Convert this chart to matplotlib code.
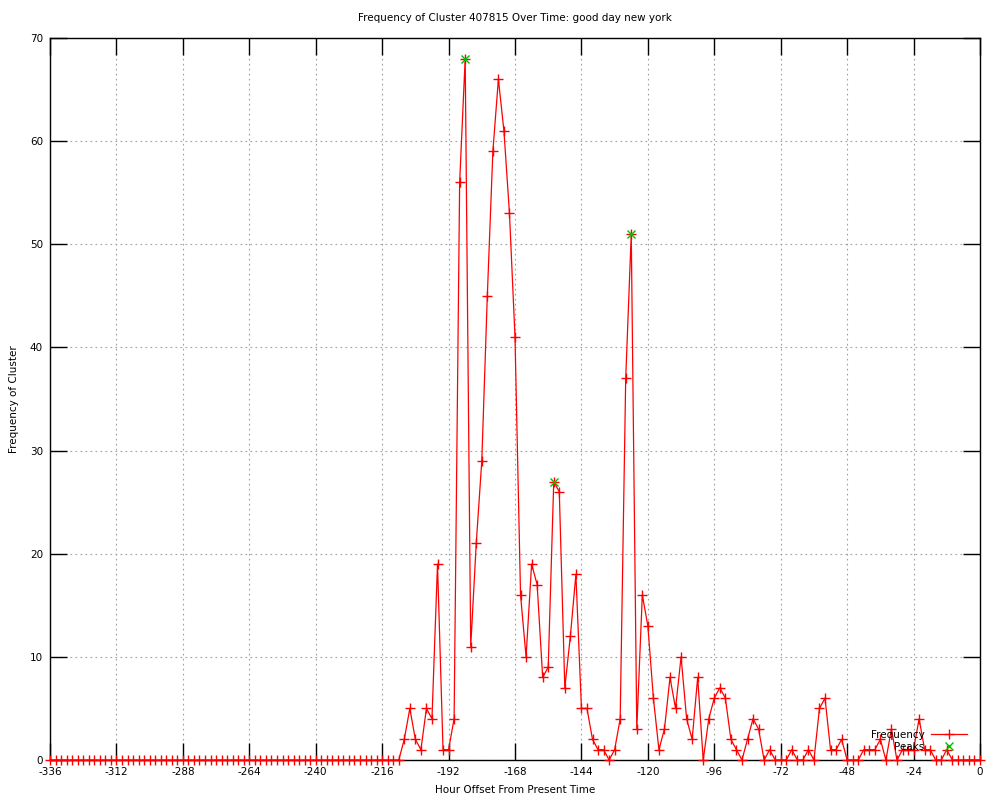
import numpy as np
import matplotlib
matplotlib.use("Agg")
import matplotlib.pyplot as plt

# hour offsets, every 2 hours from -336 to 0
hours = list(range(-336, 1, 2))

# frequency per 2-hour bin
freq_before = [0] * 64  # -336 .. -210
freq_after = [
    2, 5, 2, 1, 5, 4, 19, 1, 1, 4,          # -208 .. -190
    56, 68, 11, 21, 29, 45, 59, 66, 61, 53,  # -188 .. -170
    41, 16, 10, 19, 17, 8, 9, 27, 26, 7,     # -168 .. -150
    12, 18, 5, 5, 2, 1, 1, 0, 1, 4,          # -148 .. -130
    37, 51, 3, 16, 13, 6, 1, 3, 8, 5,        # -128 .. -110
    10, 4, 2, 8, 0, 4, 6, 7, 6, 2,           # -108 .. -90
    1, 0, 2, 4, 3, 0, 1, 0, 0, 0,            # -88 .. -70
    1, 0, 0, 1, 0, 5, 6, 1, 1, 2,            # -68 .. -50
    0, 0, 0, 1, 1, 1, 2, 0, 3, 0,            # -48 .. -30
    1, 1, 1, 4, 1, 1, 0, 0, 1, 0,            # -28 .. -10
    0, 0, 0, 0, 0,                           # -8 .. 0
]
frequency = freq_before + freq_after

peak_hours = [-186, -154, -126]
peak_values = [68, 27, 51]

x_ticks = list(range(-336, 1, 24))
y_ticks = list(range(0, 71, 10))

plt.rcParams['font.family'] = ['DejaVu Sans']
plt.rcParams['font.size'] = 7.5
plt.rcParams['axes.unicode_minus'] = False

fig = plt.figure(figsize=(10, 8), dpi=100)
ax = fig.add_axes([0.05, 0.05, 0.93, 0.9025])

ax.plot(hours, frequency, color='#ff0000', linewidth=0.9, marker='+',
        markersize=6.5, markeredgewidth=1.0, label='Frequency', clip_on=False, zorder=3)
ax.plot(peak_hours, peak_values, linestyle='none', color='#00c000', marker='x',
        markersize=5.5, markeredgewidth=1.0, label='Peaks', zorder=4)

ax.set_xlim(-336, 0)
ax.set_ylim(0, 70)
ax.set_xticks(x_ticks)
ax.set_yticks(y_ticks)
ax.tick_params(direction='in', length=12, width=1, top=True, right=True,
               labelsize=7.5, pad=5)
ax.grid(True, linestyle=(0, (1.5, 3)), color='#a0a0a0', linewidth=0.8)
for s in ax.spines.values():
    s.set_linewidth(1)
    s.set_color('black')

ax.set_title("Frequency of Cluster 407815 Over Time: good day new york", fontsize=7.5, pad=12)
ax.set_xlabel("Hour Offset From Present Time", fontsize=7.5, labelpad=6)
ax.set_ylabel("Frequency of Cluster", fontsize=7.5, labelpad=8)

ax.legend(loc='lower right', bbox_to_anchor=(0.995, 0.0), frameon=False,
          markerfirst=False, handlelength=3.5, handletextpad=0.6,
          labelspacing=0.2, fontsize=7.5, borderpad=0.3)

fig.savefig('out.png', dpi=100)
